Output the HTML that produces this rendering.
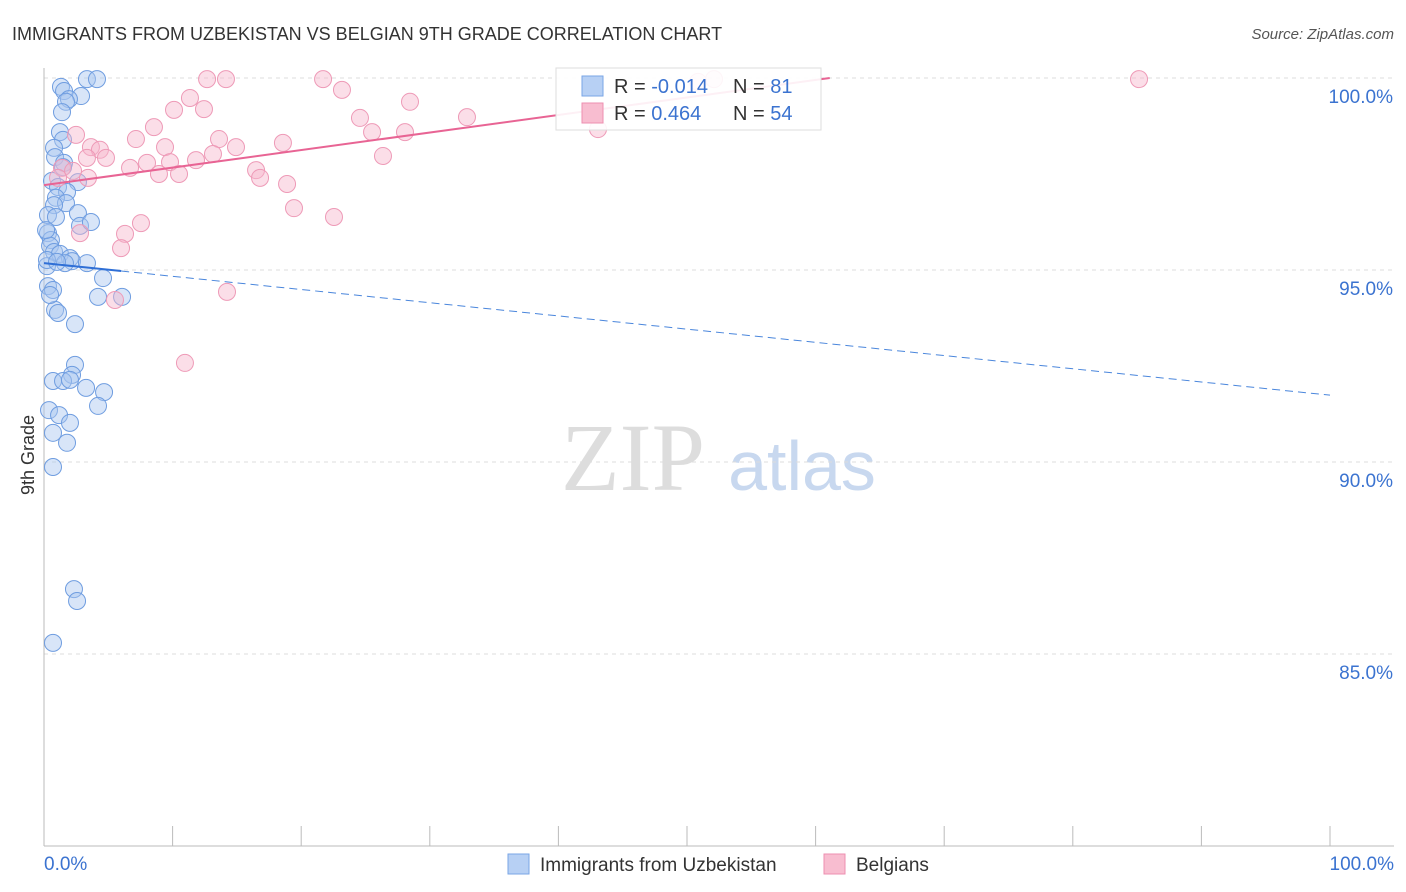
<!DOCTYPE html>
<html><head><meta charset="utf-8"><style>
body{margin:0;background:#fff;font-family:"Liberation Sans",sans-serif}
svg{display:block}
</style></head><body>
<svg id="chart" width="1406" height="892">
<text x="12" y="40" font-size="18" fill="#333">IMMIGRANTS FROM UZBEKISTAN VS BELGIAN 9TH GRADE CORRELATION CHART</text>
<text x="1394" y="39" font-size="15" fill="#555" font-style="italic" text-anchor="end">Source: ZipAtlas.com</text>
<text x="633" y="490" font-size="96" fill="#ddd" font-family="Liberation Serif,serif" text-anchor="middle">ZIP</text>
<text x="802" y="490" font-size="70" fill="#c8d8ef" text-anchor="middle">atlas</text>
<text transform="translate(34,455) rotate(-90)" font-size="18" fill="#333" text-anchor="middle">9th Grade</text>
<g id="grid"></g><g id="marks"></g>
<g>
<rect x="556" y="68" width="265" height="62" fill="#fff" fill-opacity="0.9" stroke="#ddd"/>
<rect x="582" y="76" width="21" height="20" fill="#b7d0f4" stroke="#7aa6e6"/>
<rect x="582" y="103" width="21" height="20" fill="#f8bdd0" stroke="#ee8fb0"/>
<text x="614" y="93" font-size="20" fill="#333">R = <tspan fill="#3b73d0">-0.014</tspan></text>
<text x="733" y="93" font-size="20" fill="#333">N = <tspan fill="#3b73d0"> 81</tspan></text>
<text x="614" y="120" font-size="20" fill="#333">R = <tspan fill="#3b73d0"> 0.464</tspan></text>
<text x="733" y="120" font-size="20" fill="#333">N = <tspan fill="#3b73d0">54</tspan></text>
</g>
<g>
<rect x="508" y="854" width="21" height="20" fill="#b7d0f4" stroke="#7aa6e6"/>
<text x="540" y="871" font-size="19" fill="#333">Immigrants from Uzbekistan</text>
<rect x="824" y="854" width="21" height="20" fill="#f8bdd0" stroke="#ee8fb0"/>
<text x="856" y="871" font-size="19" fill="#333">Belgians</text>
</g>
<text x="44" y="870" font-size="19" fill="#3b73d0">0.0%</text>
<text x="1394" y="870" font-size="19" fill="#3b73d0" text-anchor="end">100.0%</text>
</svg>
<script>
const yTicks=[100,95,90,85];
const yTickLabels=["100.0%","95.0%","90.0%","85.0%"];
const blueX=[3.34,4.12,1.32,1.56,2.88,1.94,1.71,1.40,1.24,1.48,0.78,0.86,1.56,1.48,0.62,2.64,1.09,1.79,0.93,1.71,0.78,0.31,0.93,2.64,2.80,3.65,0.31,0.54,0.47,0.78,1.24,2.02,2.18,3.34,0.23,1.63,4.59,4.20,6.07,0.31,0.70,0.86,1.09,2.41,2.41,2.18,0.70,1.48,2.02,3.27,4.67,4.20,0.39,1.17,2.02,0.70,1.79,0.70,2.33,2.57,0.70,0.16,0.23,1.01,0.47];
const blueY=[99.97,99.97,99.77,99.66,99.53,99.45,99.38,99.11,98.59,98.39,98.18,97.94,97.79,97.68,97.32,97.29,97.16,97.03,96.88,96.74,96.69,96.43,96.38,96.48,96.15,96.25,95.96,95.78,95.63,95.47,95.42,95.31,95.23,95.18,95.10,95.18,94.79,94.30,94.30,94.58,94.48,93.96,93.88,93.59,92.53,92.27,92.11,92.11,92.14,91.93,91.82,91.46,91.35,91.22,91.02,90.76,90.50,89.87,86.69,86.38,85.29,96.04,95.26,95.21,94.35];
const pinkX=[12.68,14.15,21.70,23.17,11.35,10.11,12.44,28.46,32.89,24.57,8.55,2.49,7.15,13.61,25.51,28.07,43.08,18.58,3.65,4.35,9.41,14.93,4.82,13.14,11.82,26.36,8.01,6.69,9.80,16.49,1.40,3.42,8.94,10.50,16.80,18.90,19.44,22.55,7.54,2.80,6.30,5.99,14.23,5.52,10.96,52.10,85.15,50.86,2.26,1.09,3.34];
const pinkY=[99.97,99.97,99.97,99.69,99.48,99.17,99.19,99.38,98.98,98.96,98.72,98.52,98.41,98.41,98.59,98.59,98.67,98.31,98.20,98.13,98.20,98.20,97.92,98.02,97.86,97.97,97.79,97.66,97.81,97.60,97.66,97.40,97.50,97.50,97.40,97.24,96.61,96.38,96.22,95.96,95.94,95.57,94.43,94.22,92.58,99.97,99.97,99.90,97.58,97.40,97.92];
const blueTrend=[95.18,91.74];
const pinkTrend=[97.21,100];
const pinkTrendEnd=61.1;
const X=v=>44+v*12.86, Y=v=>78+(100-v)*38.4;
const NS="http://www.w3.org/2000/svg";
const grid=document.getElementById('grid'), marks=document.getElementById('marks');
function mk(tag,attrs,parent){const e=document.createElementNS(NS,tag);for(const k in attrs)e.setAttribute(k,attrs[k]);parent.appendChild(e);return e;}
yTicks.forEach((t,i)=>{
 const l=mk('line',{x1:44,x2:1394,y1:Y(t),y2:Y(t),stroke:'#ddd','stroke-dasharray':'4,4'},grid);
 
 
 const tx=mk('text',{x:1393,y:Y(t)+25,'font-size':19,fill:'#3b73d0','text-anchor':'end'},grid);
 tx.textContent=yTickLabels[i];
 
 
});
const ax=mk('line',{x1:44,x2:44,y1:68,y2:846,stroke:'#bbb'},grid);


const bx=mk('line',{x1:44,x2:1394,y1:846,y2:846,stroke:'#bbb'},grid);


for(let i=0;i<=10;i++){const t=mk('line',{x1:X(i*10),x2:X(i*10),y1:826,y2:846,stroke:'#bbb'},grid);
 
 }
blueX.forEach((x,i)=>{const c=mk('circle',{cx:X(x),cy:Y(blueY[i]),r:8.5,fill:'#a9c6f0','fill-opacity':0.45,stroke:'#6f9de0','stroke-width':1},marks);
 
 });
pinkX.forEach((x,i)=>{const c=mk('circle',{cx:X(x),cy:Y(pinkY[i]),r:8.5,fill:'#f6b6cb','fill-opacity':0.45,stroke:'#ee9ab7','stroke-width':1},marks);
 
 });
const bt=v=>blueTrend[0]+(blueTrend[1]-blueTrend[0])*v/100;
const l1=mk('line',{x1:X(0),y1:Y(bt(0)),x2:X(6),y2:Y(bt(6)),stroke:'#2f6fd6','stroke-width':2},marks);


const l2=mk('line',{x1:X(6),y1:Y(bt(6)),x2:X(100),y2:Y(bt(100)),stroke:'#4a86dc','stroke-width':1,'stroke-dasharray':'8,5'},marks);


const l3=mk('line',{x1:X(0),y1:Y(pinkTrend[0]),x2:X(pinkTrendEnd),y2:Y(pinkTrend[1]),stroke:'#e86494','stroke-width':2},marks);


</script>
</body></html>
